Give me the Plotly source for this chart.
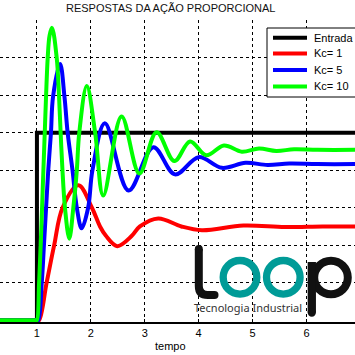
import plotly.graph_objects as go

# ---------------- data ----------------
t_in = [0, 1, 1, 7]
y_in = [0, 0, 1, 1]

t_kc1 = [0, 1.0, 1.04, 1.18, 1.32, 1.475, 1.77, 2.02, 2.17, 2.28, 2.49, 2.76, 2.91, 3.25, 3.68, 4.06, 4.83, 5.6, 6.3, 7]
y_kc1 = [0, 0, 0, 0.2, 0.4, 0.6, 0.72, 0.6, 0.5, 0.45, 0.395, 0.45, 0.5, 0.543, 0.5, 0.48, 0.505, 0.497, 0.5, 0.5]

t_kc5 = [0, 1.0, 1.026, 1.09, 1.13, 1.17, 1.21, 1.26, 1.30, 1.43, 1.51, 1.57, 1.66, 1.74, 1.83, 1.95, 2.03, 2.26,
         2.70, 3.16, 3.56, 4.0, 4.43, 4.87, 5.28, 5.68, 6.2, 7]
y_kc5 = [0, 0, 0, 0.2, 0.4, 0.6, 0.8, 1.0, 1.195, 1.367, 1.195, 1.0, 0.8, 0.6, 0.49, 0.6, 0.8, 1.051,
         0.692, 0.923, 0.778, 0.87, 0.813, 0.84, 0.828, 0.836, 0.833, 0.833]

t_kc10 = [0, 0.98, 1.0, 1.04, 1.07, 1.095, 1.12, 1.145, 1.17, 1.20, 1.235, 1.28, 1.367, 1.41, 1.44, 1.47, 1.52, 1.60,
          1.675, 1.74, 1.785, 1.925, 2.08, 2.23, 2.57, 2.90, 3.22, 3.55, 3.84, 4.14, 4.47, 4.80, 5.12, 5.44, 5.77, 6.2, 7]
y_kc10 = [0, 0, 0, 0.2, 0.4, 0.6, 0.8, 1.0, 1.2, 1.4, 1.52, 1.56, 1.4, 1.195, 1.0, 0.82, 0.6, 0.435,
          0.6, 0.8, 1.0, 1.25, 1.0, 0.665, 1.087, 0.783, 1.003, 0.849, 0.954, 0.88, 0.932, 0.899, 0.916, 0.903, 0.912, 0.909, 0.909]

series_names = ["Entrada", "Kc= 1", "Kc= 5", "Kc= 10"]
series_colors = ["#000000", "#ff0000", "#0000ff", "#00ff00"]
x_ticks = [1, 2, 3, 4, 5, 6]
y_grid = [0.2, 0.4, 0.6, 0.8, 1.0, 1.2, 1.4, 1.6]

# ---------------- figure ----------------
W, H = 355, 355
ML, MR, MT, MB = 0, 0, 20, 33
PH = H - MT - MB


def px(x):
    return x / W


def py(y):
    return (H - MB - y) / PH


fig = go.Figure()
fig.add_trace(go.Scatter(x=t_in, y=y_in, mode="lines", name=series_names[0], showlegend=False,
                         line=dict(color=series_colors[0], width=4)))
for tt, yy, nm, col in [(t_kc1, y_kc1, series_names[1], series_colors[1]),
                        (t_kc5, y_kc5, series_names[2], series_colors[2]),
                        (t_kc10, y_kc10, series_names[3], series_colors[3])]:
    fig.add_trace(go.Scatter(x=tt, y=yy, mode="lines", name=nm, showlegend=False,
                             line=dict(color=col, width=4, shape="spline", smoothing=1)))

shapes = []
annotations = []
FONT = "Liberation Sans, Arial"

# ---- legend box (drawn by hand so it can run off the right edge like the reference)
shapes.append(dict(type="rect", xref="paper", yref="paper", x0=px(267), x1=px(362), y0=py(97), y1=py(28),
                   fillcolor="white", line=dict(color="black", width=1), layer="above"))
leg_y = [37.7, 53.5, 70, 86.5]
for nm, col, yy in zip(series_names, series_colors, leg_y):
    shapes.append(dict(type="line", xref="paper", yref="paper", x0=px(273), x1=px(307), y0=py(yy), y1=py(yy),
                       line=dict(color=col, width=4), layer="above"))
    annotations.append(dict(text=nm, xref="paper", yref="paper", x=px(311.5), y=py(yy),
                            xanchor="left", yanchor="middle", showarrow=False,
                            font=dict(family=FONT, size=11, color="black")))

# white patch behind the logo
shapes.append(dict(type="rect", xref="paper", yref="paper", x0=px(188), x1=px(356), y0=py(319), y1=py(240),
                   fillcolor="white", line=dict(width=0), layer="between"))
# "L"
lx, ltop, lby, lend = 198.8, 249, 295, 214.5
path = (f"M {px(lx)},{py(ltop)} L {px(lx)},{py(286)} Q {px(lx)},{py(lby)} {px(207.8)},{py(lby)} "
        f"L {px(lend)},{py(lby)}")
shapes.append(dict(type="path", xref="paper", yref="paper", path=path, line=dict(color="#111111", width=8)))
for cx, cy, r in [(lx, ltop, 4), (lend, lby, 4)]:
    shapes.append(dict(type="circle", xref="paper", yref="paper", x0=px(cx - r), x1=px(cx + r),
                       y0=py(cy + r), y1=py(cy - r), fillcolor="#111111", line=dict(width=0)))
# "oo"
teal = "#009b97"
for cx in [240, 283.3]:
    r = 16.8
    shapes.append(dict(type="circle", xref="paper", yref="paper", x0=px(cx - r), x1=px(cx + r),
                       y0=py(277.3 + r), y1=py(277.3 - r), line=dict(color=teal, width=7.3)))
# "p"
r = 16.8
shapes.append(dict(type="circle", xref="paper", yref="paper", x0=px(331 - r), x1=px(331 + r),
                   y0=py(277.5 + r), y1=py(277.5 - r), line=dict(color="#111111", width=8)))
shapes.append(dict(type="line", xref="paper", yref="paper", x0=px(311.8), x1=px(311.8),
                   y0=py(262), y1=py(312.5), line=dict(color="#111111", width=8.3)))
shapes.append(dict(type="circle", xref="paper", yref="paper", x0=px(311.8 - 4.15), x1=px(311.8 + 4.15),
                   y0=py(312.5 + 4.15), y1=py(312.5 - 4.15), fillcolor="#111111", line=dict(width=0)))

annotations += [
    dict(text="RESPOSTAS DA AÇÃO PROPORCIONAL", xref="paper", yref="paper", x=px(170.5), y=py(8.3),
         xanchor="center", yanchor="middle", showarrow=False,
         font=dict(family=FONT, size=11, color="#111111")),
    dict(text="tempo", xref="paper", yref="paper", x=px(170), y=py(345.7),
         xanchor="center", yanchor="middle", showarrow=False,
         font=dict(family=FONT, size=11, color="#000000")),
    dict(text="Tecnologia Industrial", xref="paper", yref="paper", x=px(248.5), y=py(307),
         xanchor="center", yanchor="middle", showarrow=False,
         font=dict(family="Noto Sans", size=11, color="#333333")),
]

fig.update_layout(
    width=W, height=H,
    margin=dict(l=ML, r=MR, t=MT, b=MB, pad=0),
    paper_bgcolor="white", plot_bgcolor="white",
    shapes=shapes, annotations=annotations,
    showlegend=False,
    xaxis=dict(range=[0.315, 6.90], tickvals=x_ticks, ticktext=[str(v) for v in x_ticks],
               showgrid=True, gridcolor="black", gridwidth=1, griddash="3px,3px",
               showline=True, linecolor="black", linewidth=1.5, zeroline=False,
               ticks="inside", ticklen=3, tickcolor="black", layer="below traces",
               tickfont=dict(family=FONT, size=11, color="black")),
    yaxis=dict(range=[-0.01, 1.602], tickvals=y_grid, showticklabels=False,
               showgrid=True, gridcolor="black", gridwidth=1, griddash="3px,3px",
               showline=False, zeroline=False, ticks=""),
)

fig.write_html("out.html", config={"displayModeBar": False},
               post_script="document.body.style.margin='0px';")
